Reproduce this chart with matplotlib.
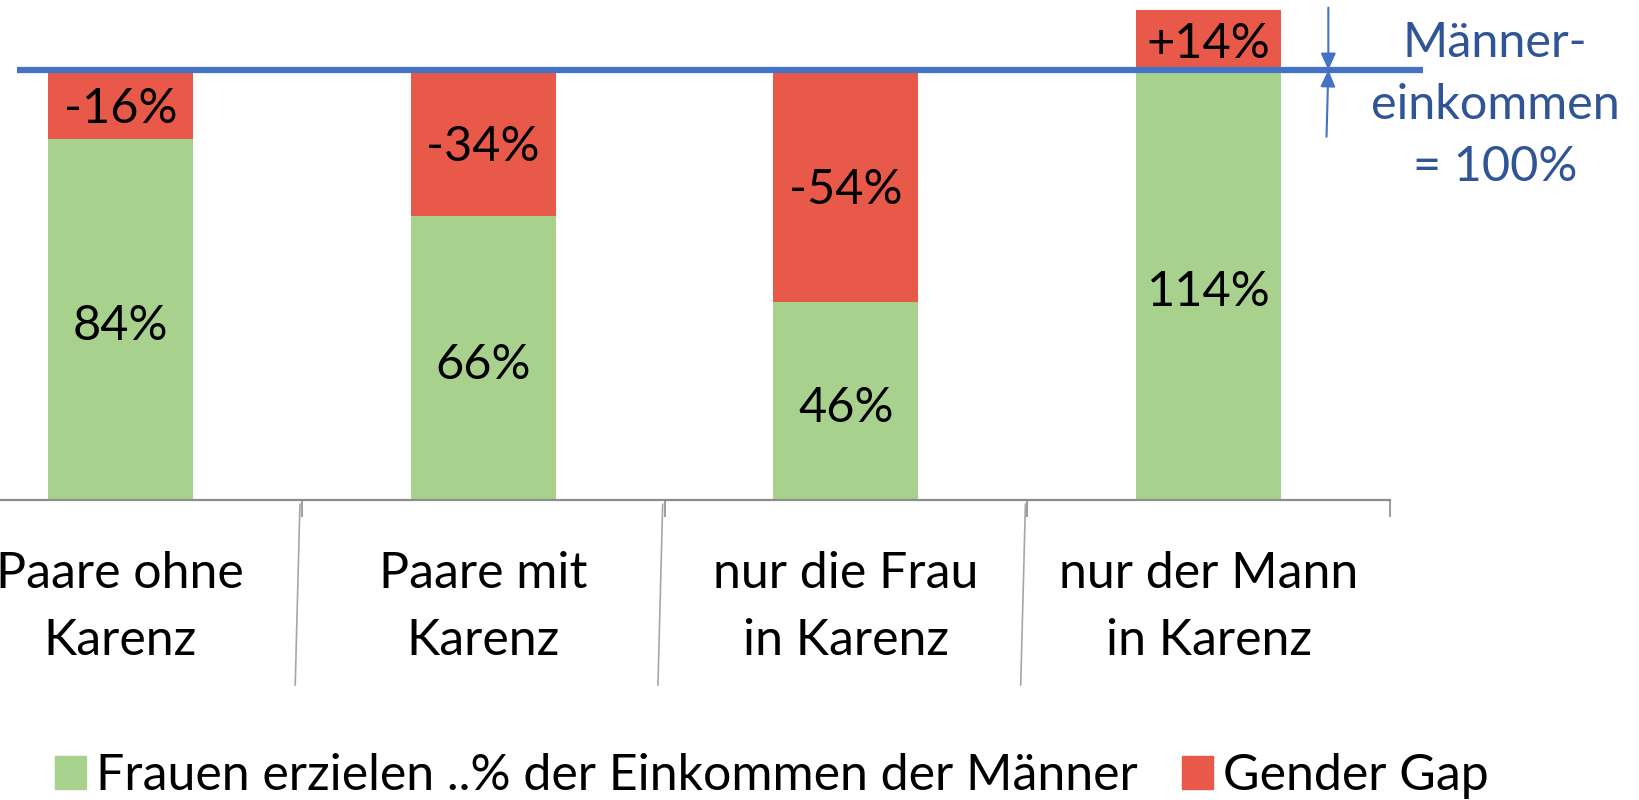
import numpy as np
import matplotlib.pyplot as plt
from matplotlib.patches import Patch

plt.rcParams['font.family'] = ['Lato', 'DejaVu Sans']

# data
kategorien = ["Paare ohne\nKarenz", "Paare mit\nKarenz", "nur die Frau\nin Karenz", "nur der Mann\nin Karenz"]
frauen_anteil = [84, 66, 46, 114]   # Frauen erzielen ..% der Einkommen der Maenner
referenz = 100                      # Maennereinkommen = 100%

gruen = "#A9D18E"
rot = "#E8594A"
blau = "#4472C4"
blau_text = "#2F5597"
grau = "#8C8C8C"

fig = plt.figure(figsize=(16.39, 8), dpi=100)
ax = fig.add_axes([-61 / 1639, 0.375, 1451 / 1639, 0.625])

x = np.arange(len(kategorien))
frauen = np.array(frauen_anteil)
gap = frauen - referenz

# gruener Teil bis min(frauen, 100), roter Teil = gap
gruen_h = np.minimum(frauen, referenz)
ax.bar(x, gruen_h, width=0.4, color=gruen)
ax.bar(x, np.abs(gap), bottom=np.minimum(frauen, referenz), width=0.4, color=rot)

for xi, g, d, gh in zip(x, frauen, gap, gruen_h):
    ax.annotate(f"{g}%", (xi, gh / 2), xytext=(0, -5), textcoords="offset points",
                ha="center", va="center", fontsize=35)
    ax.annotate(f"{d:+d}%", (xi, min(g, referenz) + abs(d) / 2), xytext=(0, -3), textcoords="offset points",
                ha="center", va="center", fontsize=35)

# 100%-Linie
ax.plot([-0.285, 3.59], [referenz, referenz], color=blau, lw=4.5, clip_on=False, solid_capstyle="butt")

# Pfeile
ax.annotate("", xy=(3.33, referenz), xytext=(3.33, referenz + 14.5),
            arrowprops=dict(arrowstyle="-|>,head_length=1.0,head_width=0.45", color=blau, lw=1.5, shrinkA=0, shrinkB=0),
            annotation_clip=False)
ax.annotate("", xy=(3.33, referenz), xytext=(3.325, referenz - 15.5),
            arrowprops=dict(arrowstyle="-|>,head_length=1.0,head_width=0.45", color=blau, lw=1.5, shrinkA=0, shrinkB=0),
            annotation_clip=False)

fig.text(1495 / 1639, 1 - 105 / 800, "Männer-\neinkommen\n= 100%", ha="center", va="center",
         fontsize=35, color=blau_text, linespacing=1.5)

ax.set_xlim(-0.5, 3.5)
ax.set_ylim(0, 116.28)
ax.set_yticks([])
for s in ["top", "right", "left"]:
    ax.spines[s].set_visible(False)
ax.spines["bottom"].set_color(grau)
ax.spines["bottom"].set_linewidth(1.6)

ax.set_xticks(x, kategorien, fontsize=36, linespacing=1.55)
ax.tick_params(axis="x", length=0, pad=37)
ax.set_xticks([0.5, 1.5, 2.5, 3.5], minor=True)
ax.tick_params(axis="x", which="minor", length=12, color=grau, width=1.2)

# Trennlinien zwischen Kategorien
for b in [0.5, 1.5, 2.5]:
    ax.plot([b - 0.005, b - 0.018], [-1, -43], color="#A6A6A6", lw=1.2, clip_on=False)

handles = [Patch(color=gruen, label="Frauen erzielen ..% der Einkommen der Männer"),
           Patch(color=rot, label="Gender Gap")]
fig.legend(handles=handles, loc="center", bbox_to_anchor=(0.471, 1 - 776 / 800), ncol=2,
           frameon=False, fontsize=36, handlelength=0.62, handleheight=0.62,
           handletextpad=0.2, columnspacing=0.9, borderaxespad=0)

fig.savefig("out.png", dpi=100)
